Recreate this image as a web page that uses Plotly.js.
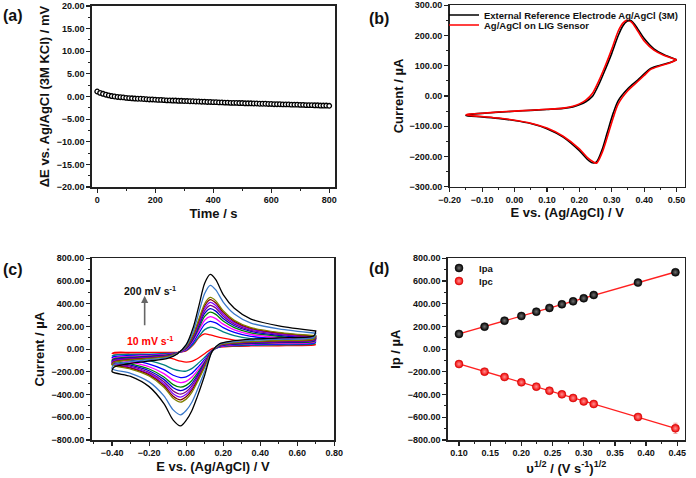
<!DOCTYPE html>
<html>
<head>
<meta charset="utf-8">
<script src="https://cdn.plot.ly/plotly-3.0.1.min.js"></script>
<style>
  html, body { margin: 0; padding: 0; background: #fff; }
  #fig { width: 696px; height: 478px; }
</style>
</head>
<body>
<div id="fig"></div>
<script>
// ---------- (a) open-circuit potential drift vs. time ----------
const driftTime = [0,10,20,30,40,50,60,70,80,90,100,110,120,130,140,150,160,170,180,190,
  200,210,220,230,240,250,260,270,280,290,300,310,320,330,340,350,360,370,380,390,
  400,410,420,430,440,450,460,470,480,490,500,510,520,530,540,550,560,570,580,590,
  600,610,620,630,640,650,660,670,680,690,700,710,720,730,740,750,760,770,780,790,800];
const driftPotential = [1.1,0.8,0.6,0.4,0.25,0.1,0.0,-0.1,-0.15,-0.2,-0.3,-0.35,-0.4,-0.45,-0.5,-0.5,-0.55,-0.6,-0.65,-0.65,
  -0.7,-0.75,-0.75,-0.8,-0.85,-0.85,-0.9,-0.9,-0.95,-0.95,-1.0,-1.0,-1.05,-1.05,-1.1,-1.1,-1.15,-1.15,-1.2,-1.2,
  -1.25,-1.25,-1.3,-1.3,-1.35,-1.35,-1.4,-1.4,-1.4,-1.45,-1.45,-1.5,-1.5,-1.5,-1.55,-1.55,-1.6,-1.6,-1.6,-1.65,
  -1.65,-1.7,-1.7,-1.7,-1.75,-1.75,-1.75,-1.8,-1.8,-1.8,-1.85,-1.85,-1.9,-1.9,-1.9,-1.95,-1.95,-2.0,-2.0,-2.0,-2.05];

// ---------- (b) CV with external vs. on-chip reference ----------
const bForwardE = [-0.150,-0.140,-0.100,-0.050,0.000,0.050,0.100,0.150,0.180,0.200,0.220,0.240,
  0.260,0.280,0.300,0.320,0.335,0.347,0.360,0.380,0.400,0.430,0.460,0.500];
const bReverseE = [0.500,0.480,0.450,0.420,0.400,0.380,0.350,0.320,0.305,0.285,0.270,0.253,
  0.240,0.225,0.200,0.150,0.100,0.050,0.000,-0.050,-0.100,-0.150];
const externalForward = [-65,-61,-57.5,-53.5,-50.5,-47.5,-44.5,-41,-36,-29,-19,-2,
  38,88,141,200,233,247,249,222,190,156,137,120];
const externalReverse = [120,111,102,91,73,53,25,-15,-55,-125,-178,-218,
  -221,-210,-181,-136,-108,-91,-81,-74,-69,-65];
const ligForward = [-63,-60,-57,-53,-50,-47,-44,-40,-34,-26,-14,8,
  50,100,155,215,242,250,245,215,182,152,135,120];
const ligReverse = [120,110,100,88,68,48,18,-26,-70,-140,-188,-222,
  -216,-204,-175,-133,-106,-90,-80,-73,-68,-63];
const bNames = ['External Reference Electrode Ag/AgCl (3M)', 'Ag/AgCl on LIG Sensor'];

// ---------- (c) CVs at increasing scan rate ----------
const scanRates = [10,20,30,40,50,60,70,80,90,100,150,200];   // mV/s
const scanColors = ['#ff0000','#008080','#0000ff','#ff00ff','#008000','#0000cd',
  '#800080','#8000ff','#800000','#808000','#3a78c9','#000000'];
const cForwardE = [-0.40,-0.39,-0.30,-0.20,-0.10,-0.05,0.00,0.04,0.07,0.10,0.13,0.16,0.20,0.26,0.35,0.50,0.70];
const cReverseE = [0.70,0.69,0.50,0.35,0.25,0.18,0.14,0.10,0.06,0.03,0.00,-0.03,-0.07,-0.12,-0.20,-0.30,-0.40];
const cForwardI = [
  [-40,-30,-28,-28,-28,-28,-15,40,105,135,126,112,97,80,64,51,40],
  [-60,-52,-46,-43,-38,-32,-10,48,115,172,193,183,152,120,93,75,58],
  [-75,-65,-56,-51,-43,-33,-5,65,144,218,245,231,190,148,113,90,71],
  [-88,-76,-64,-57,-47,-34,0,80,168,254,286,269,220,170,129,102,80],
  [-100,-85,-71,-62,-51,-35,5,92,190,288,326,306,248,190,144,113,89],
  [-112,-93,-77,-67,-55,-36,9,103,210,315,357,335,270,206,156,122,96],
  [-120,-99,-82,-71,-58,-37,12,112,226,340,386,362,290,220,166,130,102],
  [-128,-105,-87,-75,-61,-38,15,120,242,362,412,385,308,233,175,137,108],
  [-135,-111,-91,-79,-64,-39,18,128,257,382,436,406,324,245,183,143,113],
  [-140,-115,-95,-82,-66,-40,20,135,270,400,455,425,338,255,190,148,118],
  [-172,-138,-110,-93,-74,-42,30,165,330,490,562,522,415,310,230,178,140],
  [-198,-160,-125,-105,-82,-45,40,200,390,580,658,612,480,360,265,205,160]
];
const cReverseI = [
  [40,36,30,28,25,18,5,-40,-85,-108,-115,-106,-86,-63,-48,-43,-40],
  [58,46,38,34,29,18,-10,-72,-132,-172,-193,-192,-176,-138,-100,-75,-60],
  [71,55,45,40,34,21,-13,-90,-165,-215,-244,-250,-230,-180,-131,-97,-75],
  [80,62,51,45,38,24,-14,-104,-191,-248,-284,-294,-273,-215,-155,-114,-88],
  [89,69,57,50,42,27,-15,-116,-214,-278,-319,-335,-312,-245,-175,-129,-100],
  [96,74,61,54,45,29,-16,-126,-233,-303,-348,-366,-340,-266,-190,-141,-112],
  [102,78,65,58,48,31,-17,-134,-249,-325,-375,-396,-368,-287,-204,-151,-120],
  [108,82,69,61,50,33,-18,-142,-264,-345,-398,-422,-392,-305,-216,-160,-128],
  [113,86,72,64,53,35,-19,-150,-278,-364,-420,-446,-414,-321,-227,-168,-135],
  [118,90,76,67,55,36,-20,-158,-292,-382,-440,-466,-432,-335,-236,-175,-140],
  [140,104,88,78,64,42,-22,-195,-360,-470,-540,-578,-535,-412,-288,-213,-172],
  [160,118,100,88,72,48,-20,-230,-420,-545,-628,-676,-625,-480,-330,-240,-198]
];

// ---------- (d) peak current vs. square root of scan rate ----------
const sqrtRate = [0.100,0.141,0.173,0.200,0.224,0.245,0.265,0.283,0.300,0.316,0.387,0.447];
const ipa = [134,198,251,292,330,363,395,421,448,477,586,677];
const ipc = [-131,-198,-245,-292,-330,-366,-398,-430,-460,-483,-597,-697];
const ipaErr = [4,4,5,5,5,6,6,6,7,7,10,12];
const ipcErr = [6,6,7,7,8,8,9,9,10,10,22,45];

// least-squares straight line through a set of points
function linFit(xs, ys) {
  const n = xs.length;
  const mx = xs.reduce((a, b) => a + b, 0) / n;
  const my = ys.reduce((a, b) => a + b, 0) / n;
  let sxy = 0, sxx = 0;
  for (let i = 0; i < n; i++) { sxy += (xs[i] - mx) * (ys[i] - my); sxx += (xs[i] - mx) ** 2; }
  const slope = sxy / sxx, icpt = my - slope * mx;
  const x0 = xs[0], x1 = xs[n - 1];
  return { x: [x0, x1], y: [icpt + slope * x0, icpt + slope * x1] };
}

const FONT = 'Liberation Sans, Arial, Helvetica, sans-serif';
const INK = '#222';

const traces = [];

// (a)
traces.push({
  x: driftTime, y: driftPotential, xaxis: 'x', yaxis: 'y', type: 'scatter', mode: 'markers',
  showlegend: false,
  marker: { symbol: 'circle', size: 4.6, color: '#ffffff', line: { color: '#000', width: 1.3 } }
});

// (b) one legend per curve so the two entries sit close together
traces.push({
  x: bForwardE.concat(bReverseE), y: externalForward.concat(externalReverse),
  xaxis: 'x2', yaxis: 'y2', type: 'scatter', mode: 'lines', name: bNames[0], legend: 'legend',
  line: { color: '#000000', width: 1.6, shape: 'spline', smoothing: 0.8 }
});
traces.push({
  x: bForwardE.concat(bReverseE), y: ligForward.concat(ligReverse),
  xaxis: 'x2', yaxis: 'y2', type: 'scatter', mode: 'lines', name: bNames[1], legend: 'legend3',
  line: { color: '#ff0000', width: 1.6, shape: 'spline', smoothing: 0.8 }
});

// (c)
scanRates.forEach((rate, k) => {
  traces.push({
    x: cForwardE.concat(cReverseE), y: cForwardI[k].concat(cReverseI[k]),
    xaxis: 'x3', yaxis: 'y3', type: 'scatter', mode: 'lines', name: rate + ' mV/s', showlegend: false,
    line: { color: scanColors[k], width: 1.3, shape: 'spline', smoothing: 0.8 }
  });
});

// (d) fitted lines below the markers
[ipa, ipc].forEach(series => {
  const f = linFit(sqrtRate, series);
  traces.push({
    x: f.x, y: f.y, xaxis: 'x4', yaxis: 'y4', type: 'scatter', mode: 'lines', showlegend: false,
    line: { color: '#ff2020', width: 1.3 }
  });
});
traces.push({
  x: sqrtRate, y: ipa, xaxis: 'x4', yaxis: 'y4', type: 'scatter', mode: 'markers', name: 'Ipa',
  legend: 'legend2',
  error_y: { type: 'data', array: ipaErr, color: '#777', thickness: 1, width: 2 },
  marker: { size: 8, color: '#000', gradient: { type: 'radial', color: '#707070' },
            line: { color: '#000', width: 0.5 } }
});
traces.push({
  x: sqrtRate, y: ipc, xaxis: 'x4', yaxis: 'y4', type: 'scatter', mode: 'markers', name: 'Ipc',
  legend: 'legend4',
  error_y: { type: 'data', array: ipcErr, color: '#f4a0a0', thickness: 1, width: 2 },
  marker: { size: 8, color: '#f00000', gradient: { type: 'radial', color: '#ff9090' },
            line: { color: '#c00000', width: 0.5 } }
});

// shared axis styling
function axis(opts) {
  const base = {
    showline: true, linecolor: INK, linewidth: 1.6, mirror: true,
    ticks: 'outside', ticklen: 4, tickwidth: 1.2, tickcolor: INK,
    showgrid: false, zeroline: false, fixedrange: true,
    tickfont: { family: FONT, size: 9, color: '#111', weight: 'bold' },
    minor: { ticks: 'outside', ticklen: 2, tickwidth: 1, tickcolor: INK, showgrid: false, dtick: opts.minorDtick }
  };
  delete opts.minorDtick;
  return Object.assign(base, opts);
}
function axTitle(text, standoff) {
  return { text: text, standoff: standoff, font: { family: FONT, size: 13, color: '#111', weight: 'bold' } };
}
function legendAt(xPx, yPx, size) {
  return {
    x: xPx / W, y: 1 - yPx / H, xanchor: 'left', yanchor: 'middle', bgcolor: 'rgba(0,0,0,0)', borderwidth: 0,
    font: { family: FONT, size: size, color: '#111', weight: 'bold' }, itemwidth: 30, tracegroupgap: 0
  };
}
const H = 478, W = 696;
const px = v => v / W, py = v => 1 - v / H;

const layout = {
  width: W, height: H,
  margin: { l: 0, r: 0, t: 0, b: 0 },
  paper_bgcolor: '#ffffff', plot_bgcolor: '#ffffff',
  font: { family: FONT, size: 9, color: '#111', weight: 'bold' },
  showlegend: true,

  xaxis: axis({ domain: [px(92), px(335)], anchor: 'y', range: [-18, 820], tick0: 0, dtick: 200, minorDtick: 100,
    title: axTitle('Time / s', 4) }),
  yaxis: axis({ domain: [py(187), py(6)], anchor: 'x', range: [-20, 20], tick0: 0, dtick: 5, minorDtick: 2.5,
    tickformat: '.2f', title: axTitle('ΔE vs. Ag/AgCl (3M KCl) / mV', 4) }),

  xaxis2: axis({ domain: [px(449.7), px(684.7)], anchor: 'y2', range: [-0.2, 0.525], tick0: -0.2, dtick: 0.1,
    minorDtick: 0.05, tickformat: '.2f', title: axTitle('E vs. (Ag/AgCl) / V', 4) }),
  yaxis2: axis({ domain: [py(186.7), py(5.3)], anchor: 'x2', range: [-300, 300], tick0: 0, dtick: 100,
    minorDtick: 50, tickformat: '.2f', title: axTitle('Current / µA', 3) }),

  xaxis3: axis({ domain: [px(91.7), px(334.3)], anchor: 'y3', range: [-0.51, 0.80], tick0: -0.4, dtick: 0.2,
    minorDtick: 0.1, tickformat: '.2f', title: axTitle('E vs. (Ag/AgCl) / V', 4) }),
  yaxis3: axis({ domain: [py(440), py(258.3)], anchor: 'x3', range: [-800, 800], tick0: 0, dtick: 200,
    minorDtick: 100, tickformat: '.2f', title: axTitle('Current / µA', 4) }),

  xaxis4: axis({ domain: [px(448), px(684.7)], anchor: 'y4', range: [0.0824, 0.4619], tick0: 0.1, dtick: 0.05,
    minorDtick: 0.025, tickformat: '.2f', title: axTitle('υ<sup>1/2</sup> / (V s<sup>-1</sup>)<sup>1/2</sup>', 6) }),
  yaxis4: axis({ domain: [py(440), py(258.3)], anchor: 'x4', range: [-800, 800], tick0: 0, dtick: 200,
    minorDtick: 100, tickformat: '.2f', title: axTitle('Ip / µA', 4) }),

  legend: legendAt(444, 15, 9.5),
  legend3: legendAt(444, 25, 9.5),
  legend2: legendAt(439, 268, 9.5),
  legend4: legendAt(439, 281, 9.5),

  annotations: [
    { xref: 'paper', yref: 'paper', x: px(1), y: py(15), xanchor: 'left', yanchor: 'middle', showarrow: false,
      text: '(a)', font: { family: FONT, size: 16, color: '#111', weight: 'bold' } },
    { xref: 'paper', yref: 'paper', x: px(367), y: py(18), xanchor: 'left', yanchor: 'middle', showarrow: false,
      text: '(b)', font: { family: FONT, size: 16, color: '#111', weight: 'bold' } },
    { xref: 'paper', yref: 'paper', x: px(1), y: py(269), xanchor: 'left', yanchor: 'middle', showarrow: false,
      text: '(c)', font: { family: FONT, size: 16, color: '#111', weight: 'bold' } },
    { xref: 'paper', yref: 'paper', x: px(367), y: py(268), xanchor: 'left', yanchor: 'middle', showarrow: false,
      text: '(d)', font: { family: FONT, size: 16, color: '#111', weight: 'bold' } },
    // scan-rate arrow in (c)
    { xref: 'x3', yref: 'y3', axref: 'x3', ayref: 'y3', x: -0.224, y: 470, ax: -0.224, ay: 154,
      showarrow: true, arrowhead: 2, arrowsize: 0.9, arrowwidth: 1.6, arrowcolor: '#666', text: ' ' },
    { xref: 'x3', yref: 'y3', x: -0.197, y: 520, showarrow: false,
      text: '200 mV s<sup>-1</sup>', font: { family: FONT, size: 10.5, color: '#111', weight: 'bold' } },
    { xref: 'x3', yref: 'y3', x: -0.193, y: 78, showarrow: false,
      text: '10 mV s<sup>-1</sup>', font: { family: FONT, size: 10.5, color: '#ff0000', weight: 'bold' } }
  ]
};

Plotly.newPlot('fig', traces, layout, { staticPlot: true, displayModeBar: false });
</script>
</body>
</html>
